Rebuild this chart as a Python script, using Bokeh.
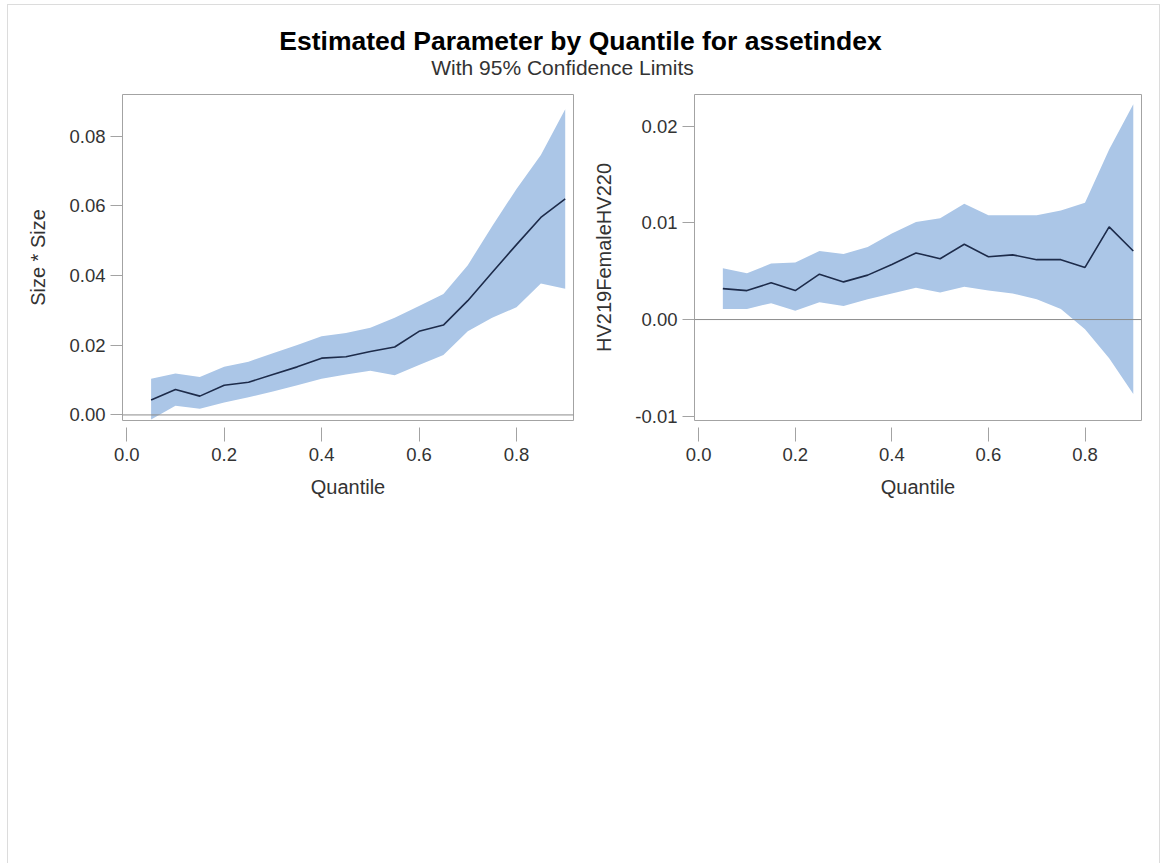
from bokeh.plotting import figure
from bokeh.layouts import column, row
from bokeh.models import Range1d, FixedTicker, NumeralTickFormatter, Span
from bokeh.core.properties import value
from bokeh.embed import file_html
from bokeh.resources import INLINE

# Quantile levels
quantiles = [0.05, 0.10, 0.15, 0.20, 0.25, 0.30, 0.35, 0.40, 0.45,
             0.50, 0.55, 0.60, 0.65, 0.70, 0.75, 0.80, 0.85, 0.90]

# Size * Size: estimate with 95% limits
size_est = [0.0043, 0.0073, 0.0054, 0.0085, 0.0094, 0.0116, 0.0138, 0.0163, 0.0167,
            0.0182, 0.0195, 0.0240, 0.0258, 0.0328, 0.0409, 0.0489, 0.0567, 0.0620]
size_lo = [-0.0013, 0.0026, 0.0018, 0.0036, 0.0051, 0.0067, 0.0085, 0.0104, 0.0116,
           0.0127, 0.0114, 0.0143, 0.0172, 0.0240, 0.0279, 0.0309, 0.0377, 0.0362]
size_hi = [0.0104, 0.0119, 0.0109, 0.0138, 0.0153, 0.0177, 0.0201, 0.0226, 0.0235,
           0.0250, 0.0279, 0.0313, 0.0347, 0.0430, 0.0542, 0.0649, 0.0746, 0.0878]

# HV219FemaleHV220: estimate with 95% limits
hv_est = [0.0032, 0.0030, 0.0038, 0.0030, 0.0047, 0.0039, 0.0046, 0.0057, 0.0069,
          0.0063, 0.0078, 0.0065, 0.0067, 0.0062, 0.0062, 0.0054, 0.0096, 0.0071]
hv_lo = [0.0011, 0.0011, 0.0017, 0.0009, 0.0018, 0.0014, 0.0021, 0.0027, 0.0033,
         0.0028, 0.0034, 0.0030, 0.0027, 0.0021, 0.0011, -0.0010, -0.0040, -0.0077]
hv_hi = [0.0053, 0.0048, 0.0058, 0.0059, 0.0071, 0.0068, 0.0075, 0.0089, 0.0101,
         0.0105, 0.0120, 0.0108, 0.0108, 0.0108, 0.0113, 0.0121, 0.0176, 0.0223]

x_ticks = [0.0, 0.2, 0.4, 0.6, 0.8]
size_ticks = [0.00, 0.02, 0.04, 0.06, 0.08]
hv_ticks = [-0.01, 0.00, 0.01, 0.02]

FONT = "Liberation Sans"
BAND = "#abc6e7"
FIT = "#1d2b4a"
FRAME = "#a3a3a3"
TEXT = "#333333"

PANEL_H = 779


def panel(est, lo, hi, yrange, yticks, ylabel, width, border_left, border_right):
    p = figure(width=width, height=PANEL_H, output_backend="svg", toolbar_location=None,
               x_range=Range1d(-0.0087, 0.917), y_range=Range1d(*yrange),
               min_border_left=border_left, min_border_right=border_right,
               min_border_top=10, min_border_bottom=PANEL_H - 336)
    p.background_fill_color = "white"
    p.border_fill_color = "white"
    p.outline_line_color = FRAME
    p.outline_line_width = 1
    p.xgrid.visible = False
    p.ygrid.visible = False

    p.varea(x=quantiles, y1=lo, y2=hi, fill_color=BAND, fill_alpha=1.0)
    p.add_layout(Span(location=0, dimension="width", line_color="#8c8c8c", line_width=1))
    p.line(x=quantiles, y=est, line_color=FIT, line_width=1.6)

    xa = p.xaxis[0]
    xa.ticker = FixedTicker(ticks=x_ticks)
    xa.formatter = NumeralTickFormatter(format="0.0")
    xa.axis_line_color = None
    xa.major_tick_line_color = FRAME
    xa.major_tick_in = -7
    xa.major_tick_out = 21
    xa.minor_tick_line_color = None
    xa.major_label_standoff = 6
    xa.major_label_text_font = FONT
    xa.major_label_text_font_size = "18.5px"
    xa.major_label_text_color = TEXT
    xa.axis_label = "Quantile"
    xa.axis_label_text_font = FONT
    xa.axis_label_text_font_size = "20px"
    xa.axis_label_text_font_style = "normal"
    xa.axis_label_text_color = TEXT
    xa.axis_label_standoff = 12

    ya = p.yaxis[0]
    ya.ticker = FixedTicker(ticks=yticks)
    ya.formatter = NumeralTickFormatter(format="0.00")
    ya.axis_line_color = None
    ya.major_tick_line_color = FRAME
    ya.major_tick_in = 0
    ya.major_tick_out = 12
    ya.minor_tick_line_color = None
    ya.major_label_standoff = 5
    ya.major_label_text_font = FONT
    ya.major_label_text_font_size = "18.5px"
    ya.major_label_text_color = TEXT
    ya.axis_label = ylabel
    ya.axis_label_text_font = FONT
    ya.axis_label_text_font_size = "20px"
    ya.axis_label_text_font_style = "normal"
    ya.axis_label_text_color = TEXT
    ya.axis_label_standoff = 17
    return p


left = panel(size_est, size_lo, size_hi, (-0.0016, 0.092), size_ticks, "Size * Size",
             582, 114, 17)
right = panel(hv_est, hv_lo, hv_hi, (-0.01045, 0.0233), hv_ticks, "HV219FemaleHV220",
              569, 100, 18)

# Header with the overall title and subtitle
header = figure(width=1151, height=79, output_backend="svg", toolbar_location=None,
                x_range=Range1d(0, 1151), y_range=Range1d(79, 0),
                min_border=0)
header.axis.visible = False
header.grid.visible = False
header.outline_line_color = None
header.background_fill_color = "white"
header.border_fill_color = "white"
header.text(x=[572], y=[35], text=["Estimated Parameter by Quantile for assetindex"],
            text_font=value(FONT), text_font_size="26.5px", text_font_style="bold",
            text_color="#000000", text_align="center", text_baseline="middle")
header.text(x=[554], y=[62], text=["With 95% Confidence Limits"],
            text_font=value(FONT), text_font_size="21px", text_font_style="normal",
            text_color=TEXT, text_align="center", text_baseline="middle")

layout = column(header, row(left, right, spacing=0), spacing=0,
                margin=(4, 0, 0, 7),
                styles={"border": "1px solid #dcdcdc", "border-bottom": "none"})

open("out.html", "w").write(file_html(layout, INLINE))
